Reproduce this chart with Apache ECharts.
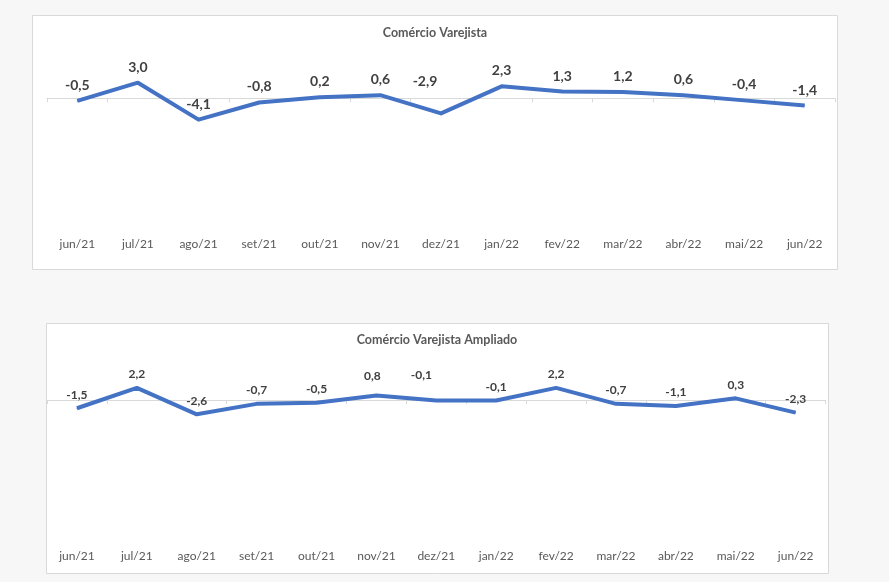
<!DOCTYPE html>
<html>

<head>
    <meta charset="utf-8">
    <title>Comércio Varejista</title>
    <script src="https://cdn.jsdelivr.net/npm/echarts@6/dist/echarts.min.js"></script>
    <style>
        html, body { margin: 0; padding: 0; background: #f7f7f7; }
    </style>
</head>

<body>
    <div id="main" style="width: 889px;height:582px;"></div>
    <script type="text/javascript">
    // meses (eixo x)
    var meses = ['jun/21', 'jul/21', 'ago/21', 'set/21', 'out/21', 'nov/21', 'dez/21',
        'jan/22', 'fev/22', 'mar/22', 'abr/22', 'mai/22', 'jun/22'];
    // variação mensal (%)
    var varejo = [-0.5, 3.0, -4.1, -0.8, 0.2, 0.6, -2.9, 2.3, 1.3, 1.2, 0.6, -0.4, -1.4];
    var ampliado = [-1.5, 2.2, -2.6, -0.7, -0.5, 0.8, -0.1, -0.1, 2.2, -0.7, -1.1, 0.3, -2.3];
    var titulos = ['Comércio Varejista', 'Comércio Varejista Ampliado'];

    // rótulos movidos à mão no original
    var deslocVarejo = { 6: [-16, -16] };
    var deslocAmpliado = { 5: [-4, -6], 6: [-15, -12] };

    var myChart = echarts.init(document.getElementById('main'));

    function fmt(v) {
        return v.toFixed(1).replace('.', ',');
    }

    function pontos(valores, desloc) {
        return valores.map(function (v, i) {
            if (desloc[i]) return { value: v, label: { offset: desloc[i] } };
            return v;
        });
    }

    var corLinha = '#4472C4';
    var corEixo = '#d9d9d9';

    function eixoRotulos(grid, margem) {
        return {
            type: 'category', gridIndex: grid, data: meses, position: 'bottom',
            axisLine: { show: false, onZero: false }, axisTick: { show: false },
            axisLabel: { color: '#595959', fontFamily: 'Lato', fontSize: 12, margin: margem }
        };
    }

    function eixoZero(grid) {
        return {
            type: 'category', gridIndex: grid, data: meses,
            axisLine: { onZero: true, lineStyle: { color: corEixo, width: 1 } },
            axisTick: { show: true, inside: true, length: 4, lineStyle: { color: corEixo } },
            axisLabel: { show: false }
        };
    }

    function serie(nome, eixoX, eixoY, dados, tam, dist) {
        return {
            name: nome,
            type: 'line',
            xAxisIndex: eixoX,
            yAxisIndex: eixoY,
            data: dados,
            showSymbol: true,
            symbol: 'circle',
            symbolSize: 1,
            itemStyle: { color: corLinha },
            lineStyle: { color: corLinha, width: 4, join: 'round' },
            label: {
                show: true, position: 'top', distance: dist,
                fontFamily: 'Lato', fontSize: tam, fontWeight: 'bold', color: '#404040',
                formatter: function (p) { return fmt(p.value); }
            }
        };
    }

    var option = {
        backgroundColor: '#f7f7f7',
        animation: false,
        graphic: [
            { type: 'rect', z: -10, shape: { x: 32.5, y: 15.5, width: 805, height: 254 },
              style: { fill: '#fff', stroke: '#d9d9d9', lineWidth: 1 } },
            { type: 'rect', z: -10, shape: { x: 46.5, y: 323.5, width: 782, height: 250 },
              style: { fill: '#fff', stroke: '#d9d9d9', lineWidth: 1 } }
        ],
        title: [
            { text: titulos[0], left: 435, top: 26, textAlign: 'center', padding: 0,
              textStyle: { fontFamily: 'Lato', fontSize: 12.5, fontWeight: 'bold', color: '#595959' } },
            { text: titulos[1], left: 437, top: 333, textAlign: 'center', padding: 0,
              textStyle: { fontFamily: 'Lato', fontSize: 12.5, fontWeight: 'bold', color: '#595959' } }
        ],
        grid: [
            { left: 47, right: 54, top: 46.3, height: 182 },
            { left: 47, right: 63.4, top: 345, height: 192.5 }
        ],
        xAxis: [eixoRotulos(0, 10), eixoZero(0), eixoRotulos(1, 13), eixoZero(1)],
        yAxis: [
            { type: 'value', gridIndex: 0, min: -25, max: 10, show: false, splitLine: { show: false } },
            { type: 'value', gridIndex: 1, min: -25, max: 10, show: false, splitLine: { show: false } }
        ],
        series: [
            serie(titulos[0], 1, 0, pontos(varejo, deslocVarejo), 14, 8),
            serie(titulos[1], 3, 1, pontos(ampliado, deslocAmpliado), 12, 7)
        ]
    };

    myChart.setOption(option);
    </script>
</body>

</html>
